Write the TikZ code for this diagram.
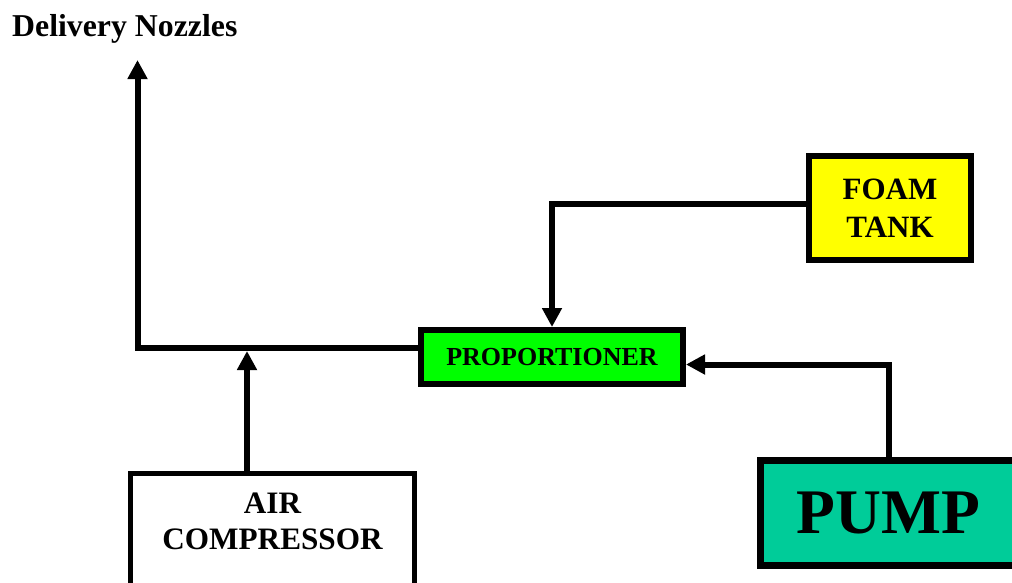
\documentclass[tikz,border=0pt]{standalone}
\usepackage{fontspec}
\setmainfont{Liberation Serif}
\usetikzlibrary{arrows.meta}
\definecolor{propgreen}{HTML}{00FF00}
\definecolor{foamyellow}{HTML}{FFFF00}
\definecolor{pumpgreen}{HTML}{00CC99}
\tikzset{
  boxnode/.style={draw=black, rectangle, inner sep=0pt, align=center, font=\bfseries},
  flow/.style={line width=6pt, -{Triangle[width=19pt,length=19pt]}},
}
\begin{document}
\begin{tikzpicture}[x=1pt,y=-1pt]
\clip (0,0) rectangle (1012,582);
\fill[white] (0,0) rectangle (1012,582);

\node[anchor=base west, inner sep=0pt, font=\bfseries\fontsize{31.8}{36}\selectfont] (title) at (12,36) {Delivery Nozzles};
\coordinate (nozzle) at (137.5,60);
\coordinate (jn) at (247,351);

\node[boxnode, fill=propgreen, line width=6pt, minimum width=262pt, minimum height=54pt,
      font=\bfseries\fontsize{26}{30}\selectfont] (prop) at (552,357) {PROPORTIONER};
\node[boxnode, fill=foamyellow, line width=6pt, minimum width=162pt, minimum height=104pt,
      font=\bfseries\fontsize{31}{38}\selectfont] (foam) at (890,208) {FOAM\\TANK};
\node[boxnode, fill=pumpgreen, line width=7pt, minimum width=257pt, minimum height=105pt,
      font=\bfseries\fontsize{63.5}{70}\selectfont] (pump) at (888.5,512.5) {PUMP};
\node[boxnode, fill=white, line width=5pt, minimum width=284pt, anchor=north, inner ysep=19.5pt,
      text depth=120pt, font=\bfseries\fontsize{31.2}{36}\selectfont] (air) at (272.5,471) {AIR\\COMPRESSOR};

\draw[flow] ([yshift=9pt]prop.west) -| (nozzle);
\draw[flow] ([yshift=4pt]foam.west) -| (prop.north);
\draw[flow] (pump.north) |- ([yshift=-7.5pt]prop.east);
\draw[flow] (air.north -| jn) -- (jn);
\end{tikzpicture}
\end{document}
